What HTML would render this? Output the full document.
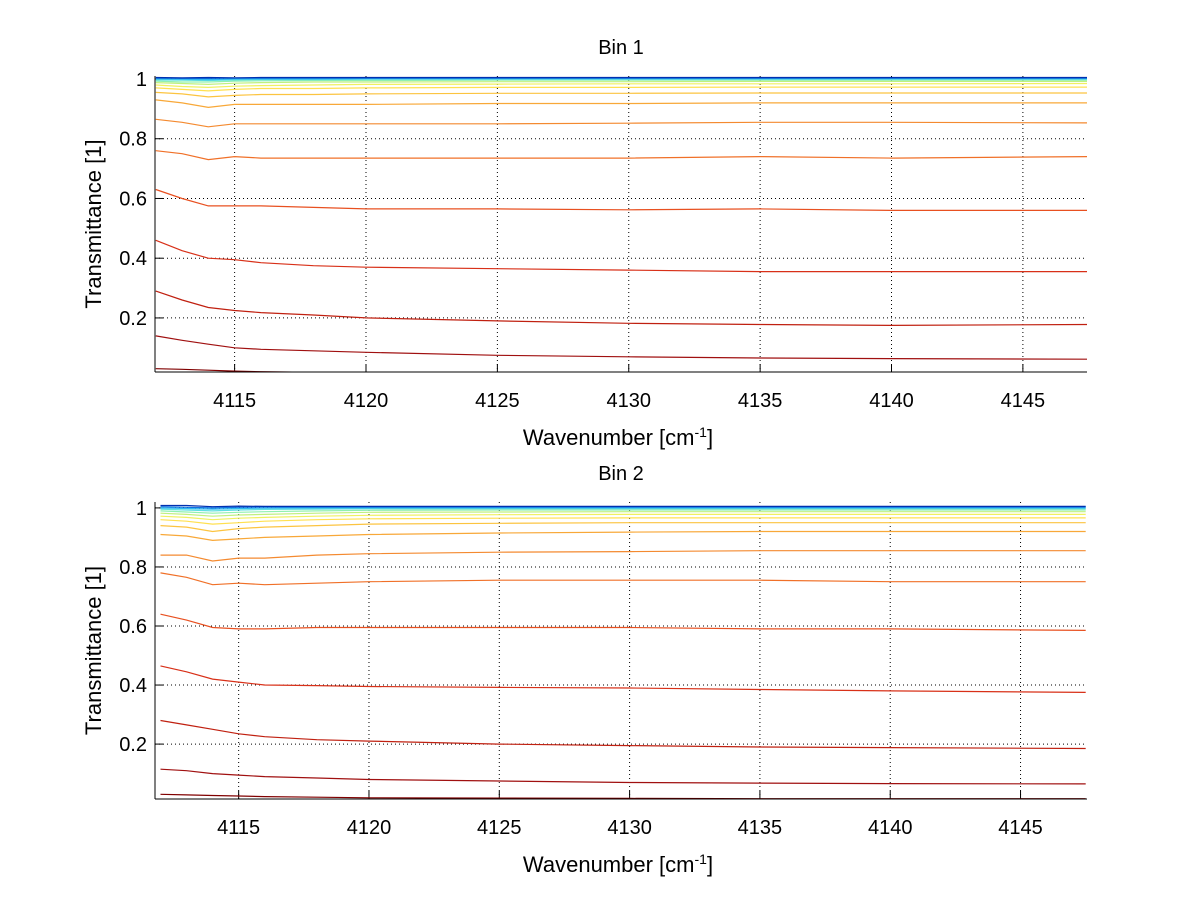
<!DOCTYPE html>
<html><head><meta charset="utf-8"><title>Transmittance Bins</title>
<style>
body{margin:0;background:#fff;}
svg text{font-family:"Liberation Sans",sans-serif;fill:#000;}
</style></head>
<body>
<svg id="fig" width="1200" height="901" viewBox="0 0 1200 901" xmlns="http://www.w3.org/2000/svg">
<rect width="1200" height="901" fill="#fff"/>
</svg>
<script>
const xSamples = [4112,4113,4114,4115,4116,4118,4120,4125,4130,4135,4140,4147.5];
const xTicks = [4115,4120,4125,4130,4135,4140,4145];
const yTicks = [0.2,0.4,0.6,0.8,1];
const yTickLabels = ["0.2","0.4","0.6","0.8","1"];
const colors = ["#800000","#a01010","#c02010","#d83018","#e85020","#f07028","#f48a30","#f8a838","#fcc440","#ffe050","#f0f060","#c0f080","#90f0b0","#60e0e0","#30b8f0","#1070e0","#0030b0"];

const bin1Series = [
[0.03,0.028,0.025,0.022,0.02,0.018,0.016,0.014,0.013,0.012,0.012,0.012],
[0.14,0.125,0.112,0.10,0.095,0.09,0.085,0.075,0.07,0.066,0.064,0.062],
[0.29,0.26,0.235,0.225,0.218,0.21,0.20,0.19,0.182,0.178,0.175,0.178],
[0.46,0.425,0.40,0.395,0.385,0.375,0.37,0.365,0.36,0.355,0.355,0.355],
[0.63,0.60,0.575,0.575,0.575,0.57,0.565,0.565,0.562,0.565,0.56,0.56],
[0.76,0.75,0.73,0.74,0.735,0.735,0.735,0.735,0.735,0.74,0.735,0.74],
[0.865,0.855,0.84,0.85,0.85,0.85,0.85,0.85,0.852,0.855,0.855,0.853],
[0.93,0.92,0.905,0.915,0.915,0.915,0.915,0.918,0.918,0.92,0.92,0.92],
[0.955,0.95,0.94,0.945,0.948,0.948,0.95,0.952,0.952,0.953,0.953,0.953],
[0.97,0.965,0.96,0.965,0.968,0.968,0.97,0.972,0.972,0.973,0.973,0.973],
[0.98,0.975,0.972,0.976,0.978,0.98,0.982,0.983,0.984,0.984,0.984,0.985],
[0.988,0.985,0.982,0.986,0.988,0.99,0.99,0.991,0.991,0.992,0.992,0.992],
[0.993,0.99,0.99,0.993,0.994,0.995,0.995,0.996,0.996,0.996,0.996,0.996],
[0.997,0.996,0.995,0.997,0.998,0.998,0.999,0.999,0.999,0.999,0.999,0.999],
[1.0,0.999,0.998,1.0,1.0,1.0,1.001,1.001,1.001,1.001,1.001,1.001],
[1.003,1.002,1.002,1.003,1.003,1.003,1.003,1.003,1.003,1.003,1.003,1.003],
[1.005,1.004,1.005,1.004,1.005,1.005,1.005,1.005,1.005,1.005,1.005,1.005]
];
const bin2Series = [
[0.03,0.028,0.026,0.024,0.022,0.02,0.018,0.017,0.016,0.015,0.015,0.015],
[0.115,0.11,0.10,0.095,0.09,0.085,0.08,0.075,0.07,0.068,0.066,0.065],
[0.28,0.265,0.25,0.235,0.225,0.215,0.21,0.2,0.195,0.19,0.188,0.185],
[0.465,0.445,0.42,0.41,0.40,0.398,0.395,0.392,0.39,0.385,0.38,0.375],
[0.64,0.62,0.595,0.59,0.59,0.595,0.595,0.595,0.595,0.59,0.59,0.585],
[0.78,0.765,0.74,0.745,0.74,0.745,0.75,0.755,0.755,0.755,0.75,0.75],
[0.84,0.84,0.82,0.83,0.83,0.84,0.845,0.85,0.852,0.855,0.855,0.855],
[0.91,0.905,0.89,0.895,0.90,0.905,0.91,0.915,0.918,0.92,0.92,0.92],
[0.94,0.935,0.92,0.93,0.935,0.94,0.945,0.948,0.95,0.95,0.95,0.95],
[0.96,0.955,0.945,0.95,0.955,0.96,0.963,0.965,0.966,0.966,0.966,0.966],
[0.972,0.968,0.96,0.965,0.968,0.972,0.975,0.977,0.978,0.978,0.978,0.978],
[0.982,0.978,0.972,0.976,0.978,0.982,0.985,0.986,0.987,0.987,0.987,0.987],
[0.99,0.986,0.982,0.985,0.987,0.99,0.992,0.993,0.993,0.993,0.993,0.993],
[0.996,0.993,0.99,0.993,0.995,0.996,0.997,0.997,0.997,0.997,0.997,0.997],
[1.0,0.998,0.996,0.998,0.999,1.0,1.0,1.0,1.0,1.0,1.0,1.0],
[1.004,1.002,1.0,1.002,1.003,1.003,1.003,1.003,1.003,1.003,1.003,1.003],
[1.008,1.008,1.004,1.006,1.005,1.005,1.005,1.005,1.005,1.005,1.005,1.005]
];

const svg = document.getElementById('fig');
const NS = 'http://www.w3.org/2000/svg';
function mk(tag, attrs, parent){const e=document.createElementNS(NS,tag);for(const k in attrs)e.setAttribute(k,attrs[k]);(parent||svg).appendChild(e);return e;}

function panel(cfg){
  const g = mk('g',{});
  
  
  const L=155,R=1087,T=cfg.top,B=cfg.bottom;
  const xs = v => L + (v-cfg.x0)/(cfg.x1-cfg.x0)*(R-L);
  const ys = v => B - (v-cfg.y0)/(cfg.y1-cfg.y0)*(B-T);
  const cid='clip'+cfg.id;
  const cp=mk('clipPath',{id:cid},g); mk('rect',{x:L,y:T-3,width:R-L,height:B-T+3},cp);
  xTicks.forEach(t=>{
    const ln=mk('line',{x1:xs(t),x2:xs(t),y1:T,y2:B,stroke:'#000','stroke-width':1,'stroke-dasharray':'1,3'},g);
    
    
    mk('line',{x1:xs(t),x2:xs(t),y1:B,y2:B-8,stroke:'#000','stroke-width':1},g);
    const tx=mk('text',{x:xs(t),y:B+35,'text-anchor':'middle','font-size':20},g);
    tx.textContent=t;
    
    
  });
  yTicks.forEach((t,i)=>{
    const ln=mk('line',{x1:L,x2:R,y1:ys(t),y2:ys(t),stroke:'#000','stroke-width':1,'stroke-dasharray':'1,3'},g);
    
    
    mk('line',{x1:L,x2:L+8,y1:ys(t),y2:ys(t),stroke:'#000','stroke-width':1},g);
    const tx=mk('text',{x:L-8,y:ys(t)+7,'text-anchor':'end','font-size':20},g);
    tx.textContent=yTickLabels[i];
    
    
  });
  const lg=mk('g',{'clip-path':'url(#'+cid+')'},g);
  cfg.series.forEach((s,i)=>{
    const pts=s.map((v,j)=>xs(xSamples[j]).toFixed(1)+','+ys(v).toFixed(1)).join(' ');
    const pl=mk('polyline',{points:pts,fill:'none',stroke:colors[i],'stroke-width':1.2},lg);
    
    
  });
  mk('line',{x1:L,x2:L,y1:T,y2:B,stroke:'#000','stroke-width':1},g);
  mk('line',{x1:L,x2:R,y1:B,y2:B,stroke:'#000','stroke-width':1},g);
  const title=mk('text',{x:(L+R)/2,y:T-22,'text-anchor':'middle','font-size':20},g);
  title.textContent=cfg.title;
  
  
  const xl=mk('text',{x:(L+R)/2-3,y:B+73,'text-anchor':'middle','font-size':22},g);
  xl.innerHTML='Wavenumber [cm<tspan dy="-8" font-size="14">-1</tspan><tspan dy="8">]</tspan>';
  
  
  const yl=mk('text',{x:0,y:0,'text-anchor':'middle','font-size':22,transform:'translate(101,'+((T+B)/2)+') rotate(-90)'},g);
  yl.textContent='Transmittance [1]';
  
  
}
panel({id:1,name:'bin-1-chart',title:'Bin 1',top:76,bottom:372,x0:4111.97,x1:4147.44,y0:0.019,y1:1.01,series:bin1Series});
panel({id:2,name:'bin-2-chart',title:'Bin 2',top:502,bottom:799,x0:4111.79,x1:4147.55,y0:0.014,y1:1.02,series:bin2Series});
</script>
</body></html>
